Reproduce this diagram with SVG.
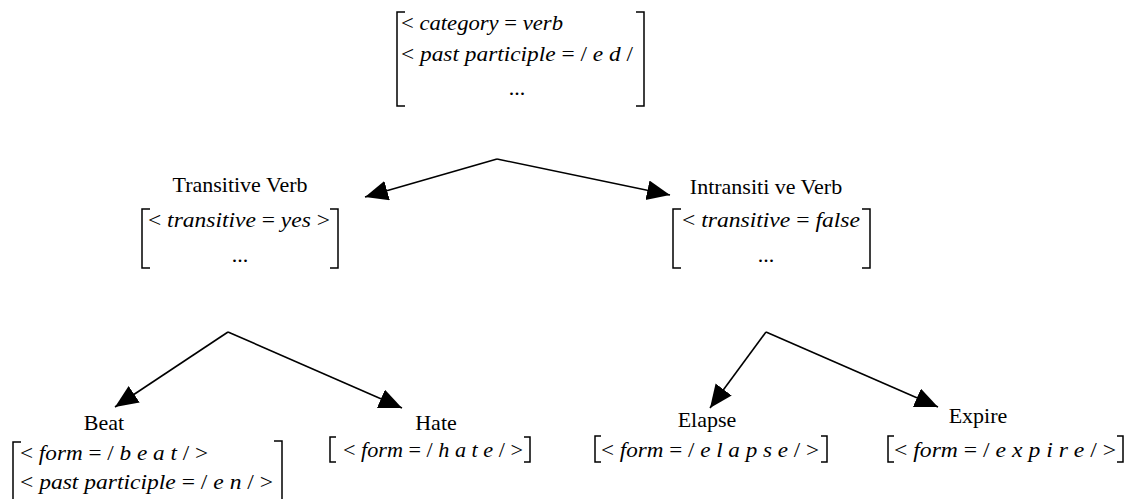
<svg xmlns="http://www.w3.org/2000/svg" width="1131" height="499" viewBox="0 0 1131 499">
  <style>
    text { font-family: "Liberation Serif", "Times New Roman", serif; font-size: 22px; fill: #000; }
    .it { font-style: italic; }
    .br { fill: none; stroke: #000; stroke-width: 1.5; }
    .edge { fill: none; stroke: #000; stroke-width: 1.6; }
  </style>
  <defs>
    <marker id="arrow" markerUnits="userSpaceOnUse" markerWidth="24" markerHeight="22" refX="23" refY="10" orient="auto">
      <path d="M0,0 L23,10 L0,20 z" fill="#000"/>
    </marker>
  </defs>

  <!-- Verb (root) -->
  <g id="verb">
    <path class="br" d="M405,12 H397 V106 H405"/>
    <path class="br" d="M636,12 H644 V106 H636"/>
    <text x="401" y="30" textLength="162" lengthAdjust="spacingAndGlyphs">&lt; <tspan class="it">category</tspan> = <tspan class="it">verb</tspan></text>
    <text x="401" y="61" textLength="232" lengthAdjust="spacingAndGlyphs">&lt; <tspan class="it">past  participle</tspan> = / <tspan class="it">e d</tspan> /</text>
    <text x="517" y="95" text-anchor="middle">...</text>
  </g>

  <!-- Transitive Verb -->
  <g id="transitive">
    <text x="240" y="192" text-anchor="middle">Transitive  Verb</text>
    <path class="br" d="M150,209 H142 V268 H150"/>
    <path class="br" d="M330,209 H338 V268 H330"/>
    <text x="148" y="227" textLength="182" lengthAdjust="spacingAndGlyphs">&lt; <tspan class="it">transitive</tspan> = <tspan class="it">yes</tspan> &gt;</text>
    <text x="240" y="262" text-anchor="middle">...</text>
  </g>

  <!-- Intransitive Verb -->
  <g id="intransitive">
    <text x="766" y="194" text-anchor="middle">Intransiti ve Verb</text>
    <path class="br" d="M681,209 H673 V268 H681"/>
    <path class="br" d="M862,209 H870 V268 H862"/>
    <text x="682" y="227" textLength="178" lengthAdjust="spacingAndGlyphs">&lt; <tspan class="it">transitive</tspan> = <tspan class="it">false</tspan></text>
    <text x="766" y="262" text-anchor="middle">...</text>
  </g>

  <!-- Beat -->
  <g id="beat">
    <text x="104" y="430" text-anchor="middle">Beat</text>
    <path class="br" d="M21,442 H13 V499"/>
    <path class="br" d="M274,441 H282 V499"/>
    <text x="20" y="460" textLength="188" lengthAdjust="spacingAndGlyphs">&lt; <tspan class="it">form</tspan> = / <tspan class="it">b e a t</tspan> / &gt;</text>
    <text x="20" y="489" textLength="253" lengthAdjust="spacingAndGlyphs">&lt; <tspan class="it">past  participle</tspan> = / <tspan class="it">e n</tspan> / &gt;</text>
  </g>

  <!-- Hate -->
  <g id="hate">
    <text x="436" y="430" text-anchor="middle">Hate</text>
    <path class="br" d="M336,437 H330 V462 H336"/>
    <path class="br" d="M524,437 H530 V462 H524"/>
    <text x="343" y="457" textLength="180" lengthAdjust="spacingAndGlyphs">&lt; <tspan class="it">form</tspan> = / <tspan class="it">h a t e</tspan> / &gt;</text>
  </g>

  <!-- Elapse -->
  <g id="elapse">
    <text x="707" y="427" text-anchor="middle">Elapse</text>
    <path class="br" d="M601,436 H595 V462 H601"/>
    <path class="br" d="M821,436 H827 V462 H821"/>
    <text x="601" y="457" textLength="218" lengthAdjust="spacingAndGlyphs">&lt; <tspan class="it">form</tspan> = / <tspan class="it">e l a  p s e</tspan> / &gt;</text>
  </g>

  <!-- Expire -->
  <g id="expire">
    <text x="978" y="423" text-anchor="middle">Expire</text>
    <path class="br" d="M894,436 H888 V462 H894"/>
    <path class="br" d="M1117,436 H1123 V462 H1117"/>
    <text x="894" y="457" textLength="222" lengthAdjust="spacingAndGlyphs">&lt; <tspan class="it">form</tspan> = / <tspan class="it">e x  p i r e</tspan> / &gt;</text>
  </g>

  <!-- Connectors -->
  <g id="connectors">
    <polyline class="edge" points="497,159 365,197" marker-end="url(#arrow)"/>
    <polyline class="edge" points="497,159 670,195" marker-end="url(#arrow)"/>
    <polyline class="edge" points="228,332 115,407" marker-end="url(#arrow)"/>
    <polyline class="edge" points="228,332 402,408" marker-end="url(#arrow)"/>
    <polyline class="edge" points="766,332 710,408" marker-end="url(#arrow)"/>
    <polyline class="edge" points="766,332 938,407" marker-end="url(#arrow)"/>
  </g>
</svg>
